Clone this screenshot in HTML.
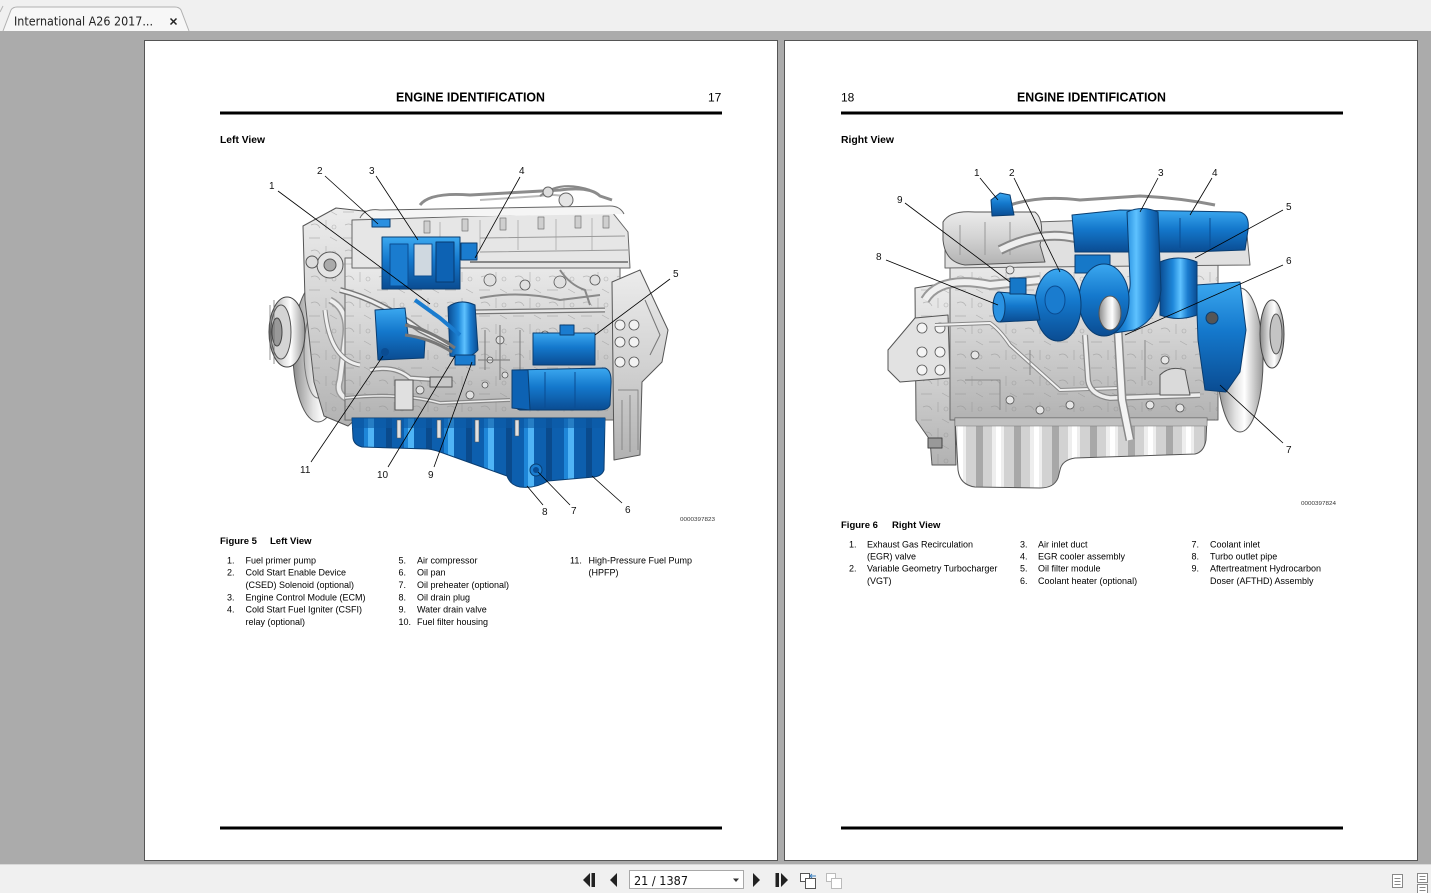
<!DOCTYPE html>
<html><head><meta charset="utf-8"><style>
html,body{margin:0;padding:0;width:1431px;height:893px;overflow:hidden;background:#f0f0f0}
svg{display:block}
text{font-family:"Liberation Sans",Arial,sans-serif}
</style></head><body>
<svg width="1431" height="893" viewBox="0 0 1431 893" xmlns="http://www.w3.org/2000/svg">
<defs>
<linearGradient id="bV" x1="0" y1="0" x2="0" y2="1"><stop offset="0" stop-color="#3ba8f0"/><stop offset=".45" stop-color="#1478cc"/><stop offset="1" stop-color="#0a4c92"/></linearGradient>
<linearGradient id="bH" x1="0" y1="0" x2="1" y2="0"><stop offset="0" stop-color="#0a4c92"/><stop offset=".35" stop-color="#1f88da"/><stop offset=".55" stop-color="#5ec2ff"/><stop offset=".75" stop-color="#1a7ccf"/><stop offset="1" stop-color="#0a4c92"/></linearGradient>
<linearGradient id="gV" x1="0" y1="0" x2="0" y2="1"><stop offset="0" stop-color="#ececec"/><stop offset=".5" stop-color="#d2d2d2"/><stop offset="1" stop-color="#b2b2b2"/></linearGradient>
<linearGradient id="gH" x1="0" y1="0" x2="1" y2="0"><stop offset="0" stop-color="#8a8a8a"/><stop offset=".4" stop-color="#e2e2e2"/><stop offset=".6" stop-color="#ffffff"/><stop offset="1" stop-color="#999"/></linearGradient>
<pattern id="ribB" x="0" y="0" width="40" height="100" patternUnits="userSpaceOnUse">
<rect width="40" height="100" fill="#0d5fae"/>
<rect x="4" width="10" height="100" fill="#1e86d8"/><rect x="8" width="6" height="100" fill="#4fb4f6"/>
<rect x="26" width="6" height="100" fill="#0a4a8c"/>
</pattern>
<pattern id="ribG" x="0" y="0" width="38" height="100" patternUnits="userSpaceOnUse">
<rect width="38" height="100" fill="#d2d2d2"/>
<rect x="4" width="12" height="100" fill="#eeeeee"/><rect x="8" width="5" height="100" fill="#ffffff"/>
<rect x="26" width="7" height="100" fill="#a8a8a8"/>
</pattern>
<pattern id="tex" x="0" y="0" width="34" height="26" patternUnits="userSpaceOnUse">
<rect width="34" height="26" fill="none"/>
<path d="M3,4 L14,4 M20,12 L20,22 M5,17 Q11,14 14,20 M24,3 L31,7" stroke="#8d8d8d" stroke-width=".7" fill="none"/>
<circle cx="28" cy="19" r="2" fill="none" stroke="#888" stroke-width=".6"/>
</pattern>
</defs>

<!-- tab bar -->
<rect x="0" y="0" width="1431" height="31" fill="#f0f0f0"/>
<path d="M0,12 L3,6" stroke="#b5b5b5" fill="none"/>
<path d="M3,31 L11,10 Q13,7 17,7 L175,7 Q179,7 181,10 L189,31" fill="#f7f7f7" stroke="#b0b0b0"/>
<text x="14" y="25.5" font-size="12.5" fill="#222" textLength="139" lengthAdjust="spacingAndGlyphs" style="font-family:'DejaVu Sans','Liberation Sans',sans-serif">International A26 2017...</text>
<path d="M170.5,18.5 L176.5,24.5 M176.5,18.5 L170.5,24.5" stroke="#222" stroke-width="1.5"/>

<!-- gray area -->
<rect x="0" y="31" width="1431" height="833" fill="#ababab"/>

<!-- pages -->
<rect x="144.5" y="40.5" width="633" height="820" fill="#fff" stroke="#555"/>
<rect x="784.5" y="40.5" width="633" height="820" fill="#fff" stroke="#555"/>

<!-- LEFT PAGE header -->
<text x="396" y="101.5" font-size="12.5" font-weight="bold" fill="#000" textLength="149" lengthAdjust="spacingAndGlyphs">ENGINE IDENTIFICATION</text>
<text x="708" y="101.5" font-size="12" fill="#000">17</text>
<rect x="220" y="111.5" width="502" height="3" fill="#000"/>
<text x="220" y="143" font-size="10" font-weight="bold" fill="#000" textLength="45" lengthAdjust="spacingAndGlyphs">Left View</text>

<!-- RIGHT PAGE header -->
<text x="841" y="101.5" font-size="12" fill="#000">18</text>
<text x="1017" y="101.5" font-size="12.5" font-weight="bold" fill="#000" textLength="149" lengthAdjust="spacingAndGlyphs">ENGINE IDENTIFICATION</text>
<rect x="841" y="111.5" width="502" height="3" fill="#000"/>
<text x="841" y="143" font-size="10" font-weight="bold" fill="#000" textLength="53" lengthAdjust="spacingAndGlyphs">Right View</text>

<!-- bottom rules -->
<rect x="220" y="826.5" width="502" height="3" fill="#000"/>
<rect x="841" y="826.5" width="502" height="3" fill="#000"/>

<!-- ================= LEFT ENGINE ================= -->
<g stroke-linejoin="round">
<path d="M420,205 Q430,192 470,195 L560,190 Q590,186 600,196 L612,200" fill="none" stroke="#8c8c8c" stroke-width="3"/>
<path d="M480,200 L540,196 Q555,193 570,198" fill="none" stroke="#bbb" stroke-width="2"/>
<path d="M540,196 Q560,180 590,190" fill="none" stroke="#888" stroke-width="2"/>
<circle cx="566" cy="200" r="7" fill="#e5e5e5" stroke="#666"/>
<circle cx="548" cy="192" r="5" fill="#ddd" stroke="#666"/>
<ellipse cx="318" cy="352" rx="25" ry="70" fill="url(#gH)" stroke="#555"/>
<ellipse cx="318" cy="352" rx="14" ry="46" fill="none" stroke="#777"/>
<ellipse cx="287" cy="332" rx="18" ry="35" fill="url(#gH)" stroke="#444"/>
<ellipse cx="281" cy="332" rx="10" ry="27" fill="#d4d4d4" stroke="#555"/>
<ellipse cx="277" cy="332" rx="5" ry="14" fill="#999" stroke="#444"/>
<path d="M270,305 L270,360 M274,300 L274,364" stroke="#666" stroke-width=".7"/>
<path d="M303,226 L336,208 L372,212 L376,300 L372,405 L348,426 L324,416 L314,382 L305,300 Z" fill="url(#gV)" stroke="#555"/>
<path d="M303,226 L336,208 L372,212 L376,300 L372,405 L348,426 L324,416 L314,382 L305,300 Z" fill="url(#tex)" opacity=".55"/>
<circle cx="330" cy="265" r="13" fill="#e4e4e4" stroke="#555"/>
<circle cx="330" cy="265" r="6" fill="#aaa" stroke="#555"/>
<circle cx="312" cy="262" r="6" fill="#dcdcdc" stroke="#555"/>
<path d="M330,300 Q350,310 345,340 L340,380 Q335,395 350,400" fill="none" stroke="#999" stroke-width="7"/>
<path d="M330,300 Q350,310 345,340 L340,380 Q335,395 350,400" fill="none" stroke="#eee" stroke-width="4"/>
<rect x="345" y="258" width="275" height="162" fill="url(#gV)" stroke="#666"/>
<rect x="345" y="258" width="275" height="162" fill="url(#tex)" opacity=".55"/>
<path d="M352,220 L612,212 L628,232 L630,268 L352,268 Z" fill="#e6e6e6" stroke="#666"/>
<g fill="#cfcfcf" stroke="#777" stroke-width=".7">
<rect x="424" y="221" width="6" height="12"/><rect x="462" y="219" width="6" height="12"/><rect x="500" y="218" width="6" height="12"/><rect x="538" y="217" width="6" height="12"/><rect x="575" y="216" width="6" height="12"/><rect x="603" y="216" width="6" height="12"/>
</g>
<g fill="none" stroke="#aaa" stroke-width=".8">
<path d="M440,222 L440,250 M480,220 L480,250 M518,220 L518,250 M556,219 L556,250 M592,218 L592,250"/>
</g>
<path d="M480,238 L625,236 M480,252 L628,250" stroke="#999" fill="none"/>
<path d="M470,262 L628,262" stroke="#888" stroke-width="2" fill="none"/>
<path d="M360,218 Q365,208 380,210 L610,206 Q620,206 624,214" fill="#f5f5f5" stroke="#666"/>
<path d="M480,298 Q520,290 560,300 L600,295" fill="none" stroke="#8a8a8a" stroke-width="2"/>
<path d="M560,270 Q570,285 585,290 L590,305" fill="none" stroke="#888" stroke-width="2"/>
<path d="M470,312 L605,310" fill="none" stroke="#777" stroke-width="5"/>
<path d="M470,312 L605,310" fill="none" stroke="#e6e6e6" stroke-width="2.5"/>
<g fill="#e0e0e0" stroke="#555" stroke-width=".8">
<circle cx="490" cy="280" r="6"/><circle cx="525" cy="285" r="5"/><circle cx="560" cy="282" r="6"/><circle cx="595" cy="280" r="5"/>
<circle cx="545" cy="335" r="4"/><circle cx="500" cy="340" r="4"/><circle cx="420" cy="390" r="4"/><circle cx="470" cy="395" r="4"/>
<circle cx="490" cy="360" r="3"/><circle cx="505" cy="375" r="3"/><circle cx="485" cy="385" r="3"/>
</g>
<path d="M500,325 L500,380 M520,330 L520,370 M540,340 L540,360 M485,330 L485,370 M478,360 L510,360" stroke="#777" fill="none"/>
<path d="M345,398 Q400,392 440,403 L510,400" fill="none" stroke="#888" stroke-width="4"/>
<path d="M345,398 Q400,392 440,403 L510,400" fill="none" stroke="#eee" stroke-width="1.5"/>
<path d="M370,370 Q395,365 410,378 L440,380" fill="none" stroke="#888" stroke-width="5"/>
<path d="M370,370 Q395,365 410,378 L440,380" fill="none" stroke="#eee" stroke-width="2.5"/>
<rect x="395" y="380" width="18" height="30" fill="#e0e0e0" stroke="#555"/>
<rect x="430" y="377" width="22" height="10" fill="#c8c8c8" stroke="#555"/>
<path d="M340,290 Q380,300 420,330 L450,345" fill="none" stroke="#777" stroke-width="6"/>
<path d="M340,290 Q380,300 420,330 L450,345" fill="none" stroke="#eee" stroke-width="3"/>
<path d="M325,310 Q330,360 360,365" fill="none" stroke="#888" stroke-width="5"/>
<path d="M325,310 Q330,360 360,365" fill="none" stroke="#f0f0f0" stroke-width="3"/>
<path d="M612,282 L640,270 L668,330 L662,362 L642,382 L640,455 L614,460 Z" fill="url(#gV)" stroke="#555"/>
<g fill="#f2f2f2" stroke="#555" stroke-width=".8">
<circle cx="620" cy="325" r="5"/><circle cx="634" cy="325" r="5"/><circle cx="620" cy="342" r="5"/><circle cx="634" cy="342" r="5"/><circle cx="620" cy="362" r="5"/><circle cx="634" cy="362" r="5"/>
</g>
<path d="M645,300 L660,335 L650,355" fill="none" stroke="#777"/>
<path d="M618,390 L638,390 L638,450 M622,400 L622,450 M630,395 L630,452" fill="none" stroke="#888"/>

<path d="M352,418 L605,418 L604,470 Q602,476 594,477 L548,481 Q535,489 520,487 Q510,485 507,476 L440,452 Q435,450 428,449 L362,447 Q354,445 353,438 Z" fill="url(#ribB)" stroke="#0a3d70"/>
<path d="M352,418 L605,418 L605,428 L352,428 Z" fill="#0b5aa5" opacity=".6"/>
<g fill="#e0e0e0" stroke="#555" stroke-width=".6">
<rect x="397" y="420" width="4" height="18"/><rect x="437" y="420" width="4" height="18"/><rect x="475" y="420" width="4" height="22"/><rect x="515" y="420" width="4" height="16"/>
</g>
<circle cx="536" cy="470" r="6" fill="#1a7ccf" stroke="#0a3d70"/>
<circle cx="536" cy="470" r="3" fill="#0a4c92"/>

<rect x="533" y="333" width="62" height="32" fill="url(#bV)" stroke="#0a3d70"/>
<rect x="560" y="325" width="14" height="10" fill="#1a7ccf" stroke="#0a3d70"/>
<path d="M513,370 L605,368 Q612,370 611,385 L610,405 Q608,410 600,410 L520,410 Q512,408 512,395 Z" fill="url(#bV)" stroke="#0a3d70"/>
<path d="M512,370 L528,370 L530,410 L512,408 Z" fill="#0d62b3" stroke="#0a3d70"/>
<path d="M545,372 L545,408 M575,372 L575,408" stroke="#0a4c92" fill="none"/>
<rect x="382" y="237" width="78" height="52" fill="url(#bV)" stroke="#0a3d70"/>
<rect x="390" y="244" width="18" height="42" fill="#1a7ccf" stroke="#0a4c92"/>
<rect x="414" y="244" width="18" height="32" fill="#cfd8e0" stroke="#0a4c92"/>
<rect x="436" y="242" width="18" height="40" fill="#0d62b3" stroke="#083a70"/>
<rect x="461" y="243" width="16" height="17" fill="#1a7ccf" stroke="#0a3d70"/>
<rect x="372" y="219" width="18" height="8" fill="#2a8fe0" stroke="#0a3d70"/>
<path d="M448,307 Q460,298 475,305 L478,350 Q470,360 450,356 Z" fill="url(#bH)" stroke="#0a3d70"/>
<rect x="455" y="355" width="20" height="10" fill="#1a7ccf" stroke="#0a3d70"/>
<path d="M375,310 L405,308 L408,335 L425,340 L424,358 L378,360 Z" fill="url(#bV)" stroke="#0a3d70"/>
<circle cx="385" cy="352" r="4" fill="#0a4c92"/>
<path d="M405,325 Q430,330 455,348" stroke="#777" stroke-width="3" fill="none"/>
<path d="M405,335 Q430,338 452,352" stroke="#777" stroke-width="3" fill="none"/>
<path d="M415,300 L440,318 L460,335" stroke="#1a7ccf" stroke-width="4" fill="none"/>
</g>

<g stroke="#000" stroke-width=".8" fill="none">
<line x1="278" y1="191" x2="430" y2="304"/>
<line x1="325" y1="176" x2="378" y2="224"/>
<line x1="376" y1="176" x2="418" y2="240"/>
<line x1="520" y1="177" x2="475" y2="258"/>
<line x1="670" y1="279" x2="595" y2="335"/>
<line x1="622" y1="503" x2="592" y2="476"/>
<line x1="570" y1="505" x2="538" y2="472"/>
<line x1="543" y1="505" x2="527" y2="486"/>
<line x1="434" y1="467" x2="472" y2="362"/>
<line x1="388" y1="467" x2="455" y2="356"/>
<line x1="311" y1="462" x2="383" y2="356"/>
</g>
<g font-size="10" fill="#111">
<text x="269" y="189">1</text><text x="317" y="174">2</text><text x="369" y="174">3</text><text x="519" y="174">4</text>
<text x="673" y="277">5</text><text x="625" y="513">6</text><text x="571" y="514">7</text><text x="542" y="515">8</text>
<text x="428" y="478">9</text><text x="377" y="478">10</text><text x="300" y="473">11</text>
</g>
<text x="680" y="521" font-size="5.5" fill="#333" textLength="35" lengthAdjust="spacingAndGlyphs">0000397823</text>

<!-- ================= RIGHT ENGINE ================= -->
<g stroke-linejoin="round">
<path d="M1010,205 Q1040,195 1080,200 L1140,196 Q1180,198 1215,205" fill="none" stroke="#8c8c8c" stroke-width="3"/>
<ellipse cx="1240" cy="360" rx="23" ry="72" fill="url(#gH)" stroke="#555"/>
<ellipse cx="1272" cy="334" rx="12" ry="34" fill="url(#gH)" stroke="#444"/>
<ellipse cx="1276" cy="334" rx="6" ry="20" fill="#c4c4c4" stroke="#555"/>
<path d="M915,288 L952,282 L956,465 L932,465 L930,440 L916,420 Z" fill="url(#gV)" stroke="#555"/>
<path d="M915,288 L952,282 L956,465 L932,465 L930,440 L916,420 Z" fill="url(#tex)" opacity=".55"/>
<path d="M888,350 L915,318 L948,315 L950,378 L900,382 L888,370 Z" fill="#e2e2e2" stroke="#555"/>
<g fill="#f5f5f5" stroke="#555" stroke-width=".8">
<circle cx="922" cy="328" r="5"/><circle cx="940" cy="328" r="5"/><circle cx="922" cy="352" r="5"/><circle cx="940" cy="352" r="5"/><circle cx="922" cy="370" r="5"/><circle cx="940" cy="370" r="5"/>
</g>
<rect x="928" y="438" width="14" height="10" fill="#999" stroke="#444"/>
<rect x="950" y="255" width="268" height="165" fill="url(#gV)" stroke="#666"/>
<rect x="950" y="255" width="268" height="165" fill="url(#tex)" opacity=".55"/>
<path d="M945,225 L1245,215 L1250,265 L945,268 Z" fill="#e0e0e0" stroke="#666"/>
<path d="M943,222 Q950,210 975,212 L1035,212 Q1045,220 1040,245 L1045,262 L965,265 Q945,262 943,240 Z" fill="url(#gV)" stroke="#555"/>
<path d="M960,225 L960,255 M985,222 L985,255 M1010,222 L1010,255" stroke="#999" fill="none"/>
<path d="M1000,250 Q1040,230 1075,238" fill="none" stroke="#888" stroke-width="10"/>
<path d="M1000,250 Q1040,230 1075,238" fill="none" stroke="#eee" stroke-width="6"/>
<path d="M925,300 Q940,275 990,285 L1040,280" fill="none" stroke="#999" stroke-width="10"/>
<path d="M925,300 Q940,275 990,285 L1040,280" fill="none" stroke="#f0f0f0" stroke-width="6"/>
<path d="M955,418 L1207,418 L1206,440 Q1204,452 1195,454 L1075,458 Q1062,460 1060,470 L1058,478 Q1054,488 1040,488 L975,487 Q960,485 958,470 Z" fill="url(#ribG)" stroke="#555"/>
<rect x="955" y="418" width="252" height="8" fill="#c0c0c0" stroke="#777" stroke-width=".5"/>
<path d="M935,325 L990,323 Q1000,330 1010,345 L1060,390 L1120,388" fill="none" stroke="#888" stroke-width="4"/>
<path d="M935,325 L990,323 Q1000,330 1010,345 L1060,390 L1120,388" fill="none" stroke="#f2f2f2" stroke-width="2"/>
<path d="M1085,335 L1088,380 Q1090,395 1110,398 L1200,395" fill="none" stroke="#888" stroke-width="6"/>
<path d="M1085,335 L1088,380 Q1090,395 1110,398 L1200,395" fill="none" stroke="#eee" stroke-width="3.5"/>
<path d="M1118,330 L1122,400 L1130,440" fill="none" stroke="#888" stroke-width="9"/>
<path d="M1118,330 L1122,400 L1130,440" fill="none" stroke="#f4f4f4" stroke-width="6"/>
<g fill="#e6e6e6" stroke="#555" stroke-width=".8">
<circle cx="975" cy="355" r="4"/><circle cx="1010" cy="400" r="4"/><circle cx="1040" cy="410" r="4"/><circle cx="1070" cy="405" r="4"/><circle cx="1150" cy="405" r="4"/><circle cx="1180" cy="408" r="4"/><circle cx="1165" cy="360" r="4"/><circle cx="1010" cy="270" r="4"/>
</g>
<path d="M1160,375 Q1170,365 1185,370 L1190,395 L1160,395 Z" fill="#dadada" stroke="#555"/>
<path d="M965,380 L1000,380 L1000,410 M1030,350 L1030,375 M1145,340 L1145,380" stroke="#888" fill="none"/>
<path d="M1072,215 L1120,210 L1240,212 Q1250,215 1248,230 L1245,250 L1190,252 L1075,252 Z" fill="url(#bV)" stroke="#0a3d70"/>
<path d="M1180,218 L1180,248 M1210,218 L1210,248" stroke="#0a4c92" fill="none"/>
<rect x="1075" y="255" width="35" height="18" fill="#1678c8" stroke="#0a3d70"/>
<path d="M1196,285 L1240,282 L1246,330 L1240,372 L1226,392 L1205,390 L1198,340 Z" fill="url(#bV)" stroke="#0a3d70"/>
<circle cx="1212" cy="318" r="6" fill="#555" stroke="#0a3d70"/>
<path d="M1160,262 Q1178,254 1197,262 L1197,315 Q1178,322 1160,315 Z" fill="url(#bH)" stroke="#0a3d70"/>
<path d="M1127,212 Q1142,205 1158,212 L1161,290 Q1158,320 1134,330 L1108,334 L1106,305 L1124,300 Q1131,294 1130,280 Z" fill="url(#bH)" stroke="#0a3d70"/>
<ellipse cx="1104" cy="300" rx="25" ry="36" fill="url(#bV)" stroke="#0a3d70"/>
<ellipse cx="1110" cy="313" rx="11" ry="17" fill="url(#gH)" stroke="#555"/>
<ellipse cx="1058" cy="305" rx="23" ry="36" fill="url(#bV)" stroke="#0a3d70"/>
<ellipse cx="1055" cy="300" rx="10" ry="14" fill="#1a7ccf" stroke="#0a4c92"/>
<path d="M998,292 L1035,295 L1040,320 L1000,322 Z" fill="url(#bV)" stroke="#0a3d70"/>
<ellipse cx="999" cy="307" rx="6" ry="15" fill="#2a92e2" stroke="#0a3d70"/>
<rect x="1010" y="278" width="16" height="16" fill="#1678c8" stroke="#0a3d70"/>
<path d="M991,200 L1000,193 L1010,195 L1014,215 L992,216 Z" fill="url(#bV)" stroke="#0a3d70"/>
</g>

<g stroke="#000" stroke-width=".8" fill="none">
<line x1="980" y1="178" x2="998" y2="200"/>
<line x1="1014" y1="178" x2="1060" y2="272"/>
<line x1="1158" y1="178" x2="1140" y2="212"/>
<line x1="1212" y1="178" x2="1190" y2="215"/>
<line x1="1283" y1="210" x2="1195" y2="258"/>
<line x1="1283" y1="265" x2="1125" y2="335"/>
<line x1="1283" y1="443" x2="1220" y2="385"/>
<line x1="886" y1="260" x2="998" y2="305"/>
<line x1="905" y1="203" x2="1010" y2="282"/>
</g>
<g font-size="10" fill="#111">
<text x="974" y="176">1</text><text x="1009" y="176">2</text><text x="1158" y="176">3</text><text x="1212" y="176">4</text>
<text x="1286" y="210">5</text><text x="1286" y="264">6</text><text x="1286" y="453">7</text><text x="876" y="260">8</text><text x="897" y="203">9</text>
</g>
<text x="1301" y="505" font-size="5.5" fill="#333" textLength="35" lengthAdjust="spacingAndGlyphs">0000397824</text>

<!-- LEFT LEGEND -->
<text x="220" y="544" font-size="9.5" font-weight="bold" fill="#000"><tspan>Figure 5</tspan><tspan x="270">Left View</tspan></text>
<g font-size="9" fill="#000">
<text x="227" y="563.5">1.</text><text x="245.5" y="563.5">Fuel primer pump</text>
<text x="227" y="575.5">2.</text><text x="245.5" y="575.5">Cold Start Enable Device</text>
<text x="245.5" y="588">(CSED) Solenoid (optional)</text>
<text x="227" y="600.5">3.</text><text x="245.5" y="600.5">Engine Control Module (ECM)</text>
<text x="227" y="612.5">4.</text><text x="245.5" y="612.5">Cold Start Fuel Igniter (CSFI)</text>
<text x="245.5" y="625">relay (optional)</text>
<text x="398.5" y="563.5">5.</text><text x="417" y="563.5">Air compressor</text>
<text x="398.5" y="575.5">6.</text><text x="417" y="575.5">Oil pan</text>
<text x="398.5" y="588">7.</text><text x="417" y="588">Oil preheater (optional)</text>
<text x="398.5" y="600.5">8.</text><text x="417" y="600.5">Oil drain plug</text>
<text x="398.5" y="612.5">9.</text><text x="417" y="612.5">Water drain valve</text>
<text x="398.5" y="625">10.</text><text x="417" y="625">Fuel filter housing</text>
<text x="570" y="563.5">11.</text><text x="588.5" y="563.5">High-Pressure Fuel Pump</text>
<text x="588.5" y="575.5">(HPFP)</text>
</g>

<!-- RIGHT LEGEND -->
<text x="841" y="528" font-size="9.5" font-weight="bold" fill="#000"><tspan>Figure 6</tspan><tspan x="892">Right View</tspan></text>
<g font-size="9" fill="#000">
<text x="849" y="547.5">1.</text><text x="867" y="547.5">Exhaust Gas Recirculation</text>
<text x="867" y="559.5">(EGR) valve</text>
<text x="849" y="571.5">2.</text><text x="867" y="571.5">Variable Geometry Turbocharger</text>
<text x="867" y="584">(VGT)</text>
<text x="1020" y="547.5">3.</text><text x="1038" y="547.5">Air inlet duct</text>
<text x="1020" y="559.5">4.</text><text x="1038" y="559.5">EGR cooler assembly</text>
<text x="1020" y="571.5">5.</text><text x="1038" y="571.5">Oil filter module</text>
<text x="1020" y="584">6.</text><text x="1038" y="584">Coolant heater (optional)</text>
<text x="1191.5" y="547.5">7.</text><text x="1210" y="547.5">Coolant inlet</text>
<text x="1191.5" y="559.5">8.</text><text x="1210" y="559.5">Turbo outlet pipe</text>
<text x="1191.5" y="571.5">9.</text><text x="1210" y="571.5">Aftertreatment Hydrocarbon</text>
<text x="1210" y="584">Doser (AFTHD) Assembly</text>
</g>

<!-- TOOLBAR -->
<rect x="0" y="864" width="1431" height="29" fill="#f0f0f0"/>
<line x1="0" y1="864.5" x2="1431" y2="864.5" stroke="#d8d8d8"/>
<g fill="#222">
<path d="M583,880 L590,873 L590,887 Z"/><rect x="591.5" y="873" width="3.5" height="14"/>
<path d="M610,880 L617,873 L617,887 Z"/>
<path d="M753,873 L753,887 L760,880 Z"/>
<rect x="775.5" y="873" width="3.5" height="14"/><path d="M781,873 L781,887 L788,880 Z"/>
</g>
<rect x="629.5" y="870.5" width="114" height="18" fill="#fff" stroke="#a8a8a8"/>
<text x="634" y="885" font-size="12" fill="#111" style="font-family:'DejaVu Sans','Liberation Sans',sans-serif" textLength="54" lengthAdjust="spacingAndGlyphs">21 / 1387</text>
<path d="M733,878.5 L739,878.5 L736,882 Z" fill="#333"/>
<rect x="800.5" y="873.5" width="9" height="8" fill="#fff" stroke="#555"/>
<rect x="805.5" y="878.5" width="10" height="10" fill="#fff" stroke="#555"/>
<path d="M810,876 L816,876 M810,876 L812,874 M810,876 L812,878" stroke="#3a7fc0" fill="none"/>
<rect x="826.5" y="873.5" width="9" height="8" fill="#fff" stroke="#bbb"/>
<rect x="831.5" y="878.5" width="10" height="10" fill="#fff" stroke="#bbb"/>
<rect x="1392.5" y="874.5" width="10" height="13" fill="#fff" stroke="#888"/>
<path d="M1394.5,878.5 H1400.5 M1394.5,881.5 H1400.5 M1394.5,884.5 H1400.5" stroke="#888"/>
<rect x="1417.5" y="873.5" width="10" height="9" fill="#fff" stroke="#888"/>
<path d="M1419.5,876.5 H1425.5 M1419.5,879.5 H1425.5" stroke="#888"/>
<rect x="1417.5" y="884.5" width="10" height="9" fill="#fff" stroke="#888"/>
<path d="M1419.5,887.5 H1425.5 M1419.5,890.5 H1425.5" stroke="#888"/>
</svg>
</body></html>
